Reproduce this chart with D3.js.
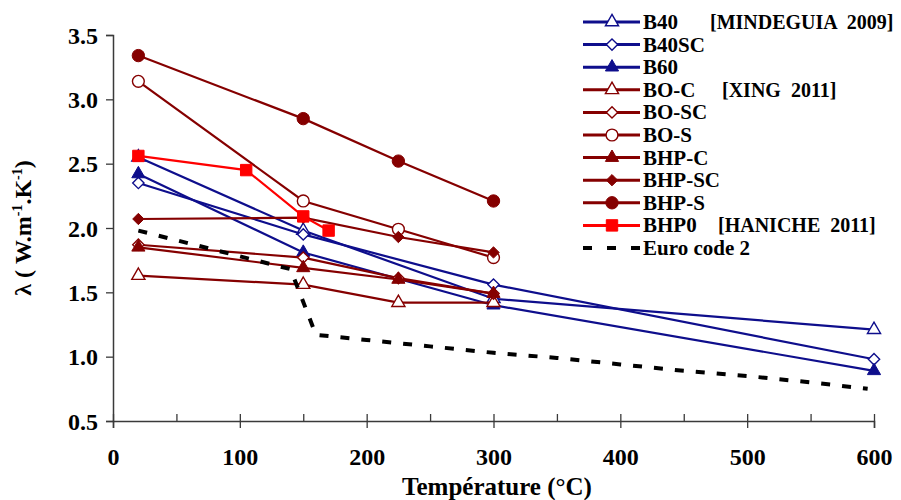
<!DOCTYPE html>
<html>
<head>
<meta charset="utf-8">
<script src="https://cdn.jsdelivr.net/npm/d3@7"></script>
<style>
  html, body { margin: 0; padding: 0; background: #fff; }
  svg text { font-family: "Liberation Serif", "Times New Roman", serif; font-weight: bold; }
</style>
</head>
<body>
<svg id="chart" width="901" height="500"></svg>
<script>
// ---- data ----
const mindeguiaT = [20, 150, 300, 600];
const b40   = [2.55, 1.98, 1.45, 1.21];
const b40sc = [2.35, 1.95, 1.56, 0.98];
const b60   = [2.42, 1.81, 1.40, 0.89];

const xingT = [20, 150, 225, 300];
const boC   = [1.63, 1.56, 1.42, 1.42];
const boSC  = [1.87, 1.77, 1.61, 1.49];
const boS   = [3.14, 2.21, 1.99, 1.77];
const bhpC  = [1.85, 1.69, 1.60, 1.49];
const bhpSC = [2.07, 2.08, 1.93, 1.81];
const bhpS  = [3.34, 2.85, 2.52, 2.21];

const hanicheT = [20, 105, 150, 170];
const bhp0     = [2.56, 2.45, 2.09, 1.98];

const euroT = [20, 140, 160, 200, 250, 300, 350, 400, 450, 500, 550, 595];
const euro  = [1.98, 1.68, 1.17, 1.13, 1.08, 1.03, 0.99, 0.94, 0.89, 0.85, 0.80, 0.75];

const xTicks = [0, 100, 200, 300, 400, 500, 600];
const xMinorTicks = [0, 50, 100, 150, 200, 250, 300, 350, 400, 450, 500, 550, 600];
const yTicks = [0.5, 1.0, 1.5, 2.0, 2.5, 3.0, 3.5];

const seriesNames = ["B40", "B40SC", "B60", "BO-C", "BO-SC", "BO-S", "BHP-C", "BHP-SC", "BHP-S", "BHP0", "Euro code 2"];
const sourceNotes = ["[MINDEGUIA  2009]", "", "", "[XING  2011]", "", "", "", "", "", "[HANICHE  2011]", ""];

// ---- styles ----
const NAVY = "#0e0e8c", DRED = "#850000", RED = "#ff0000";
const diamondType = {
  draw(ctx, size) {
    const r = Math.sqrt(size / 2);
    ctx.moveTo(0, -r); ctx.lineTo(r, 0); ctx.lineTo(0, r); ctx.lineTo(-r, 0); ctx.closePath();
  }
};
const series = [
  {name: seriesNames[0], t: mindeguiaT, v: b40,   color: NAVY, sym: d3.symbolTriangle, size: 75, fill: false},
  {name: seriesNames[1], t: mindeguiaT, v: b40sc, color: NAVY, sym: diamondType,       size: 64, fill: false},
  {name: seriesNames[2], t: mindeguiaT, v: b60,   color: NAVY, sym: d3.symbolTriangle, size: 75, fill: true},
  {name: seriesNames[3], t: xingT, v: boC,  color: DRED, sym: d3.symbolTriangle, size: 75, fill: false},
  {name: seriesNames[4], t: xingT, v: boSC, color: DRED, sym: diamondType,       size: 64, fill: false},
  {name: seriesNames[5], t: xingT, v: boS,  color: DRED, sym: d3.symbolCircle,   size: 110, fill: false},
  {name: seriesNames[6], t: xingT, v: bhpC, color: DRED, sym: d3.symbolTriangle, size: 75, fill: true},
  {name: seriesNames[7], t: xingT, v: bhpSC,color: DRED, sym: diamondType,       size: 64, fill: true},
  {name: seriesNames[8], t: xingT, v: bhpS, color: DRED, sym: d3.symbolCircle,   size: 120, fill: true},
  {name: seriesNames[9], t: hanicheT, v: bhp0, color: RED, sym: d3.symbolSquare, size: 130, fill: true},
  {name: seriesNames[10], t: euroT, v: euro, color: "#000", sym: null, dashed: true}
];

// ---- layout ----
const svg = d3.select("#chart");
const x = d3.scaleLinear().domain([0, 600]).range([113, 874]);
const y = d3.scaleLinear().domain([0.5, 3.5]).range([421, 35]);
const axisColor = "#3a3a3a";

// axes
svg.append("g").attr("transform", "translate(0,421)")
  .call(d3.axisBottom(x).tickValues(xTicks).tickFormat(d3.format("d")).tickSize(7).tickPadding(20));
svg.append("g").attr("transform", "translate(0,421)")
  .call(d3.axisTop(x).tickValues(xMinorTicks).tickFormat("").tickSize(7))
  .call(g => g.select(".domain").remove());
const gy = svg.append("g").attr("transform", "translate(113,0)")
  .call(d3.axisLeft(y).tickValues(yTicks).tickFormat(d3.format(".1f")).tickSize(7).tickPadding(8));

svg.selectAll(".domain").attr("stroke", axisColor).attr("stroke-width", 1.5);
svg.selectAll(".tick line").attr("stroke", axisColor).attr("stroke-width", 1.3);
svg.selectAll(".tick text").attr("fill", "#000").style("font-size", "24px")
  .style("font-family", "'Liberation Serif', 'Times New Roman', serif").style("font-weight", "bold");
gy.selectAll(".tick text").attr("dy", "0.34em");

// axis titles
svg.append("text").attr("x", 497).attr("y", 495).attr("text-anchor", "middle")
  .style("font-size", "25px").text("Température (°C)");
const yt = svg.append("text").attr("transform", "translate(31,228) rotate(-90)").attr("text-anchor", "middle")
  .style("font-size", "24px");
yt.append("tspan").text("λ ( W.m");
yt.append("tspan").attr("dy", -9).style("font-size", "14px").text("-1");
yt.append("tspan").attr("dy", 9).text(".K");
yt.append("tspan").attr("dy", -9).style("font-size", "14px").text("-1");
yt.append("tspan").attr("dy", 9).text(")");

// series
const line = d3.line().x(d => x(d[0])).y(d => y(d[1]));
series.forEach(s => {
  const pts = s.t.map((t, i) => [t, s.v[i]]);
  const g = svg.append("g");
  g.append("path").attr("d", line(pts)).attr("fill", "none")
    .attr("stroke", s.color)
    .attr("stroke-width", s.dashed ? 4 : 2.2)
    .attr("stroke-dasharray", s.dashed ? "9,12" : null);
  if (s.sym) {
    const sym = d3.symbol().type(s.sym).size(s.size);
    g.selectAll("path.m").data(pts).join("path").attr("class", "m")
      .attr("transform", d => `translate(${x(d[0])},${y(d[1])})`)
      .attr("d", sym)
      .attr("fill", s.fill ? s.color : "#fff")
      .attr("stroke", s.color).attr("stroke-width", s.fill ? 1 : 1.4);
  }
});

// legend
const legY0 = 22, legStep = 22.6;
const leg = svg.append("g");
series.forEach((s, i) => {
  const cy = legY0 + i * legStep;
  const g = leg.append("g").attr("transform", `translate(0,${cy})`);
  if (s.dashed) {
    g.append("line").attr("x1", 583).attr("x2", 640).attr("y1", 0).attr("y2", 0)
      .attr("stroke", "#000").attr("stroke-width", 4).attr("stroke-dasharray", "9,15");
  } else {
    g.append("line").attr("x1", 583).attr("x2", 640).attr("y1", 0).attr("y2", 0)
      .attr("stroke", s.color).attr("stroke-width", 3);
    g.append("path").attr("transform", "translate(612,0)")
      .attr("d", d3.symbol().type(s.sym).size(s.size)())
      .attr("fill", s.fill ? s.color : "#fff").attr("stroke", s.color).attr("stroke-width", s.fill ? 1 : 1.4);
  }
  g.append("text").attr("x", 643).attr("y", 7).style("font-size", "21px").text(s.name);
});
const noteX = {0: 710, 3: 722, 9: 718};
sourceNotes.forEach((n, i) => {
  if (!n) return;
  leg.append("text").attr("x", noteX[i]).attr("y", legY0 + i * legStep + 7)
    .style("font-size", "20px").style("white-space", "pre").attr("xml:space", "preserve").text(n);
});
</script>
</body>
</html>
